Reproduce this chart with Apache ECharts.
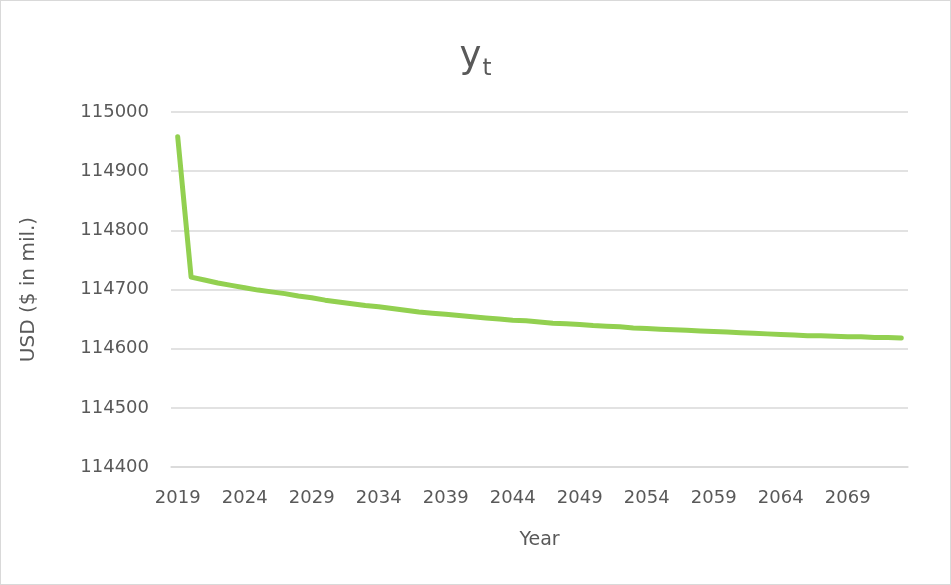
<!DOCTYPE html>
<html><head><meta charset="utf-8">
<script src="https://cdn.jsdelivr.net/npm/echarts@6/dist/echarts.min.js"></script>
<style>
html,body{margin:0;padding:0;background:#fff;}
#c{position:absolute;left:0;top:0;width:949px;height:583px;border:1px solid #d9d9d9;}
</style></head>
<body><div id="c"></div>
<script>
const years = [];
for (let y = 2019; y <= 2073; y++) years.push(String(y));
const yt = [114958,114721,114716,114711,114707,114703,114699,114696,114693,114689,
114686,114682,114679,114676,114673,114671,114668,114665,114662,114660,
114658,114656,114654,114652,114650,114648,114647,114645,114643,114642,
114641,114639,114638,114637,114635,114634,114633,114632,114631,114630,
114629,114628,114627,114626,114625,114624,114623,114622,114622,114621,
114620,114620,114619,114619,114618];
const yMin = 114400, yMax = 115000, yStep = 100;

const chart = echarts.init(document.getElementById('c'), null, {renderer:'canvas'});
const font = '"DejaVu Sans", sans-serif';
chart.setOption({
  animation:false,
  title:{
    text:'{y|y}{t|t}',
    left:'center', top:29,
    textStyle:{fontWeight:'normal',rich:{
      y:{fontSize:37,fontWeight:'normal',color:'#595959',fontFamily:font,lineHeight:44},
      t:{fontSize:23,fontWeight:'normal',color:'#595959',fontFamily:font,lineHeight:44,padding:[24,0,0,1]}
    }}
  },
  grid:{left:170,right:42,top:111,bottom:117},
  xAxis:{
    type:'category', data:years, boundaryGap:true,
    name:'Year', nameLocation:'middle', nameGap:64,
    nameTextStyle:{fontSize:19,color:'#595959',fontFamily:font},
    axisLine:{show:true,lineStyle:{color:'#d9d9d9',width:1.5}},
    axisTick:{show:false},
    axisLabel:{interval:4,fontSize:18,color:'#595959',fontFamily:font,margin:22}
  },
  yAxis:{
    type:'value', min:yMin, max:yMax, interval:yStep,
    name:'USD ($ in mil.)', nameLocation:'middle', nameGap:132, nameRotate:90,
    nameTextStyle:{fontSize:20,color:'#595959',fontFamily:font},
    axisLine:{show:false}, axisTick:{show:false},
    splitLine:{lineStyle:{color:'#d9d9d9',width:1.5}},
    axisLabel:{fontSize:18,color:'#595959',fontFamily:font,margin:22,formatter:v=>String(v)}
  },
  series:[{
    type:'line', data:yt, symbol:'none', smooth:false,
    lineStyle:{color:'#92d050',width:5,cap:'round',join:'round'}
  }]
});
</script></body></html>
